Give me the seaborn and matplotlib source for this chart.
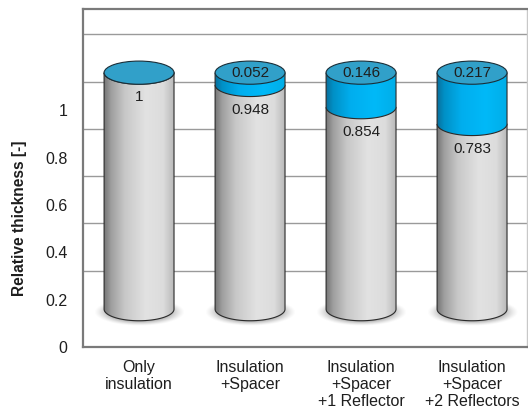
import numpy as np
import pandas as pd
import matplotlib
matplotlib.use("Agg")
import matplotlib.pyplot as plt
import seaborn as sns
from matplotlib.path import Path
from matplotlib.patches import PathPatch, Ellipse
from matplotlib.colors import LinearSegmentedColormap

# Chart data
categories = ["Only\ninsulation", "Insulation\n+Spacer",
              "Insulation\n+Spacer\n+1 Reflector", "Insulation\n+Spacer\n+2 Reflectors"]
insulation = [1.0, 0.948, 0.854, 0.783]
extra = [0.0, 0.052, 0.146, 0.217]
tick_values = [0, 0.2, 0.4, 0.6, 0.8, 1.0]
tick_labels = ["0", "0.2", "0.4", "0.6", "0.8", "1"]
grid_values = [0.2, 0.4, 0.6, 0.8, 1.0, 1.2]

df = pd.DataFrame({"case": categories, "insulation": insulation, "extra": extra})

sns.set_style("white")
plt.rcParams["font.family"] = ["Liberation Sans", "DejaVu Sans"]

# fake 3D: floor offset and back-wall offset
BASE = 0.16
WALL = 0.1226
RY = 0.049
WIDTH = 0.63

fig = plt.figure(figsize=(5.28, 4.11), dpi=100)
ax = fig.add_axes([83 / 528, 64 / 411, 444 / 528, 338 / 411])

sns.barplot(data=df, x="case", y="insulation", bottom=BASE, width=WIDTH,
            color="#d0d0d0", errorbar=None, ax=ax)
n_gray = len(ax.patches)
sns.barplot(data=df, x="case", y="extra", bottom=BASE + df["insulation"].values,
            width=WIDTH, color="#00b0f0", errorbar=None, ax=ax)
bars = list(ax.patches)

gray_cmap = LinearSegmentedColormap.from_list("g", [
    (0.0, "#767676"), (0.1, "#9f9f9f"), (0.3, "#c8c8c8"),
    (0.6, "#e2e2e2"), (0.85, "#dcdcdc"), (1.0, "#bababa")])
blue_cmap = LinearSegmentedColormap.from_list("b", [
    (0.0, "#0a6f9c"), (0.1, "#0090c6"), (0.35, "#00aeee"),
    (0.7, "#00b9f8"), (1.0, "#00aee8")])
grad = np.linspace(0, 1, 200).reshape(1, -1)


def body_path(xl, w, yb, yt):
    t = np.linspace(np.pi, 2 * np.pi, 60)
    xc = xl + w / 2
    arc = np.column_stack([xc + w / 2 * np.cos(t), yb + RY * np.sin(t)])
    verts = np.vstack([[xl, yt], [xl, yb], arc, [xl + w, yt], [xl, yt]])
    return Path(verts)


# shadows under the cylinders
for b in bars[:n_gray]:
    xc = b.get_x() + b.get_width() / 2
    xs = np.linspace(xc - 0.5, xc + 0.5, 200)
    ys = np.linspace(BASE - 0.12, BASE + 0.1, 80)
    X, Y = np.meshgrid(xs, ys)
    r = np.sqrt(((X - xc) / 0.41) ** 2 + ((Y - (BASE - 0.012)) / 0.058) ** 2)
    img = np.zeros(X.shape + (4,))
    img[..., :3] = 0.3
    img[..., 3] = 0.65 * np.clip((1 - r) / 0.45, 0, 1) ** 1.3
    ax.imshow(img, extent=(xs[0], xs[-1], ys[0], ys[-1]), origin="lower",
              aspect="auto", zorder=2, interpolation="bilinear")

# cylinder bodies
for i, b in enumerate(bars):
    xl, w = b.get_x(), b.get_width()
    yb, h = b.get_y(), b.get_height()
    b.set_visible(False)
    path = body_path(xl, w, yb, yb + h)
    z = 3 if i < n_gray else 4
    patch = PathPatch(path, facecolor="none", edgecolor="#2a2a2a", lw=0.8,
                      transform=ax.transData, zorder=z + 0.5)
    ax.add_patch(patch)
    im = ax.imshow(grad, extent=(xl, xl + w, yb - RY, yb + h), aspect="auto",
                   cmap=gray_cmap if i < n_gray else blue_cmap, zorder=z)
    im.set_clip_path(patch)

# top caps and labels
for i in range(len(categories)):
    b = bars[i]
    xc = b.get_x() + b.get_width() / 2
    top = BASE + insulation[i] + extra[i]
    ax.add_patch(Ellipse((xc, top), b.get_width(), 2 * RY, facecolor="#31a0c9",
                         edgecolor="#1a2e38", lw=0.8, zorder=6))
    ax.text(xc, BASE + insulation[i] - 0.105, f"{insulation[i]:g}", ha="center",
            va="center", fontsize=11, color="#1e1e1e", zorder=7)
    if extra[i] > 0:
        ax.text(xc, top, f"{extra[i]:g}", ha="center", va="center",
                fontsize=11, color="#1e1e1e", zorder=7)

for g in grid_values:
    ax.axhline(g + WALL, color="#9a9a9a", lw=1.0, zorder=1)

ax.set_xlim(-0.505, 3.495)
ax.set_ylim(0, 338 / 236.5)
ax.set_yticks(tick_values)
ax.set_yticklabels(tick_labels)
ax.tick_params(axis="y", length=0, pad=11, labelsize=11.5, labelcolor="#1e1e1e")
ax.tick_params(axis="x", length=0, pad=9, labelsize=11.5, labelcolor="#1e1e1e")
ax.set_xlabel("")
ax.set_ylabel("Relative thickness [-]", fontsize=11.2, fontweight="bold", color="#1e1e1e")
ax.yaxis.label.set_va("center")
ax.yaxis.set_label_coords(-0.143, 0.38)

for side in ["left", "bottom", "top"]:
    ax.spines[side].set_color("#7a7a7a")
    ax.spines[side].set_linewidth(1.6)
ax.spines["right"].set_color("#c8c8c8")
ax.spines["right"].set_linewidth(1.0)

fig.savefig("out.png", dpi=100)
